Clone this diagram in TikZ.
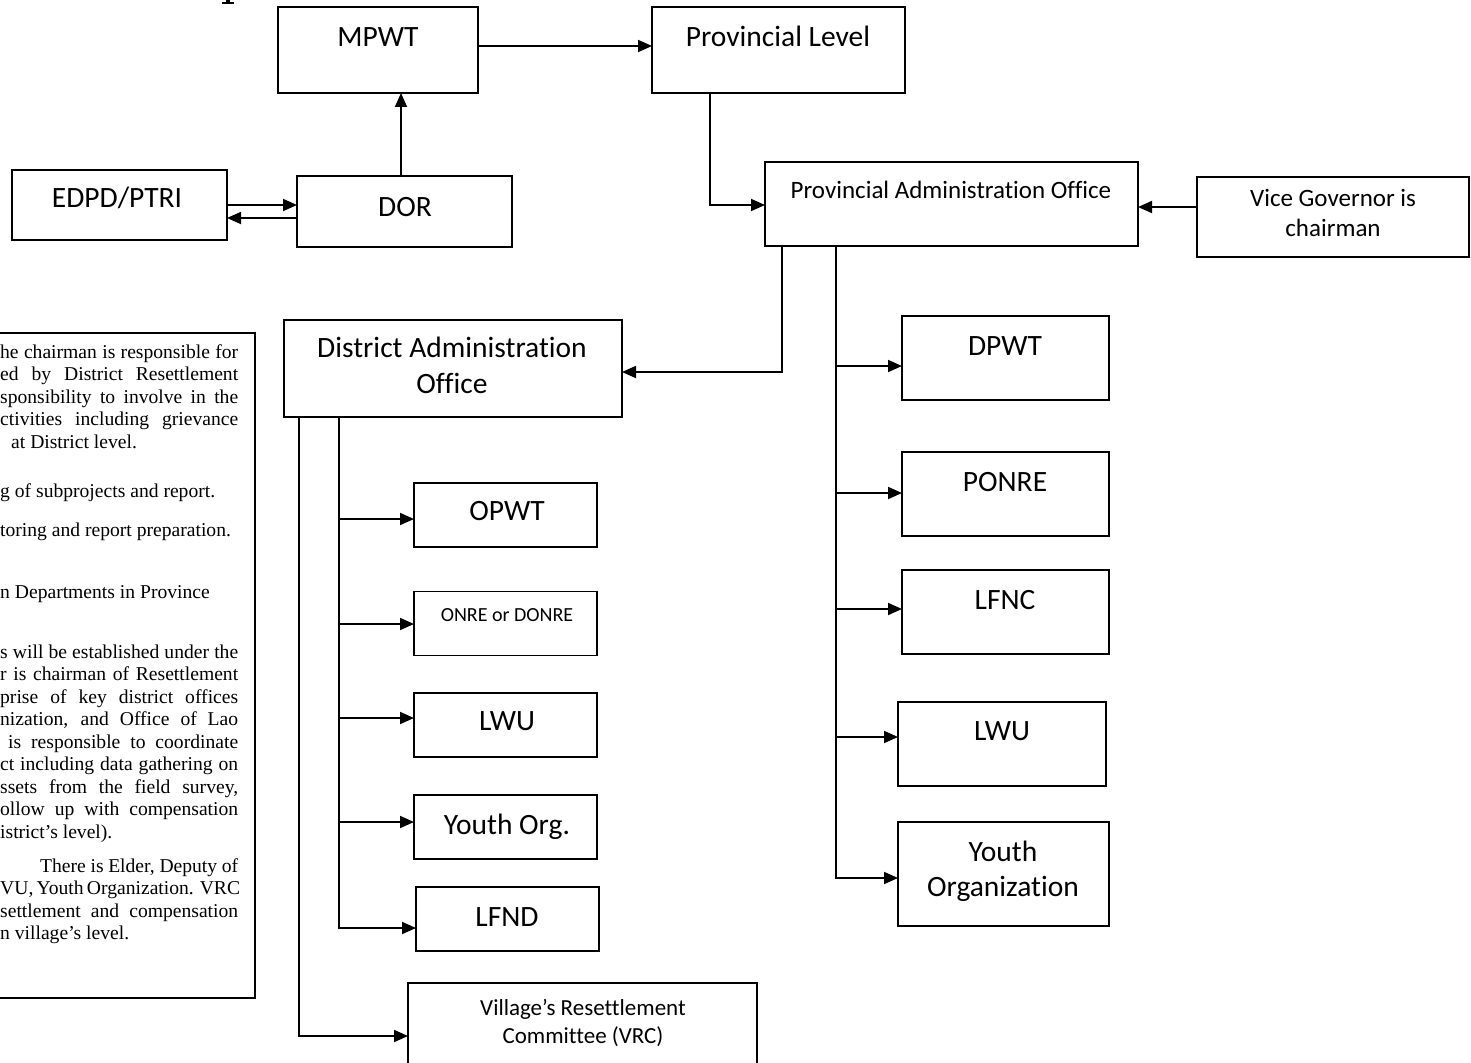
\documentclass[tikz,border=0pt]{standalone}
\usepackage{fontspec}
\setmainfont{Liberation Serif}
\newfontfamily\calfont[Ligatures={NoCommon,NoRare,NoContextual}]{Carlito}
\usetikzlibrary{arrows.meta}
\begin{document}
\begin{tikzpicture}[x=1pt,y=-1pt,
  box/.style={draw, line width=1.8pt, inner sep=0pt, outer sep=0pt},
  conn/.style={line width=1.8pt},
  arr/.style={conn, -{Triangle[length=14pt,width=12pt]}},
  big/.style={font=\calfont\fontsize{29.5}{35}\selectfont, inner sep=0pt, anchor=base},
  mid/.style={font=\calfont\fontsize{25}{30}\selectfont, inner sep=0pt, anchor=base},
  vil/.style={font=\calfont\fontsize{23}{28}\selectfont, inner sep=0pt, anchor=base},
  sml/.style={font=\calfont\fontsize{20}{24}\selectfont, inner sep=0pt, anchor=base},
  tl/.style={font=\fontsize{19.6}{23}\selectfont, inner sep=0pt, anchor=base west},
]
\useasboundingbox (0,0) rectangle (1471,1062);
\fill[white] (0,0) rectangle (1471,1062);

% foot of a letter of a title cut off above the picture
\fill[black] (226,0) rectangle (229.5,2.2);
\fill[black] (222,2.2) rectangle (233.5,3.6);

% ---------- boxes ----------
\node[box, minimum width=200pt, minimum height=86pt] (mpwt) at (378,50) {};
\node[box, minimum width=253pt, minimum height=86pt] (pl) at (778.5,50) {};
\node[box, minimum width=215pt, minimum height=70pt] (edpd) at (119.5,205) {};
\node[box, minimum width=215pt, minimum height=71pt] (dor) at (404.5,211.5) {};
\node[box, minimum width=373pt, minimum height=84pt] (pao) at (951.5,204) {};
\node[box, minimum width=272pt, minimum height=80pt] (vg) at (1333,217) {};
\node[box, minimum width=338pt, minimum height=97pt] (dao) at (453,368.5) {};
\node[box, minimum width=207pt, minimum height=84pt] (dpwt) at (1005.5,358) {};
\node[box, minimum width=207pt, minimum height=84pt] (ponre) at (1005.5,494) {};
\node[box, minimum width=207pt, minimum height=84pt] (lfnc) at (1005.5,612) {};
\node[box, minimum width=208pt, minimum height=84pt] (lwup) at (1002,744) {};
\node[box, minimum width=211pt, minimum height=104pt] (yop) at (1003.5,874) {};
\node[box, minimum width=183pt, minimum height=64pt] (opwt) at (505.5,515) {};
\node[box, minimum width=183pt, minimum height=64pt] (onre) at (505.5,623.5) {};
\node[box, minimum width=183pt, minimum height=64pt] (lwud) at (505.5,725) {};
\node[box, minimum width=183pt, minimum height=64pt] (yod) at (505.5,827) {};
\node[box, minimum width=183pt, minimum height=64pt] (lfnd) at (507.5,919) {};
\node[box, minimum width=349pt, minimum height=100pt] (vrc) at (582.5,1033) {};
\node[box, minimum width=300pt, minimum height=665pt] (note) at (105,665.5) {};

% ---------- box texts ----------
\node[big] (tmpwt) at (378,46.5) {MPWT};
\node[big] (tpl) at (778,46.5) {Provincial Level};
\node[big] (tedpd) at (117,207.5) {EDPD/PTRI};
\node[big] (tdor) at (405,216.5) {DOR};
\node[mid] (tpao) at (951,198) {Provincial Administration Office};
\node[mid] (tvg1) at (1333,206) {Vice Governor is};
\node[mid] (tvg2) at (1333,236) {chairman};
\node[big] (tdao1) at (452,357.5) {District Administration};
\node[big] (tdao2) at (452,393.5) {Office};
\node[big] (tdpwt) at (1005,355.5) {DPWT};
\node[big] (tponre) at (1005,491.5) {PONRE};
\node[big] (tlfnc) at (1005,609.5) {LFNC};
\node[big] (tlwup) at (1002,740.5) {LWU};
\node[big] (tyop1) at (1003,861.5) {Youth};
\node[big] (tyop2) at (1003,896.5) {Organization};
\node[big] (topwt) at (507,520.5) {OPWT};
\node[sml] (tonre) at (507,621.5) {ONRE or DONRE};
\node[big] (tlwud) at (507,730.5) {LWU};
\node[big] (tyod) at (507,834.5) {Youth Org.};
\node[big] (tlfnd) at (507,926.5) {LFND};
\node[vil] (tvrc1) at (583,1015.5) {Village’s Resettlement};
\node[vil] (tvrc2) at (583,1043) {Committee (VRC)};

% ---------- note text (clipped at the left edge) ----------
\node[tl] (n1) at (0,358) {\makebox[238pt][s]{he chairman is responsible for}};
\node[tl] (n2) at (0,380.5) {\makebox[238pt][s]{ed by District Resettlement}};
\node[tl] (n3) at (0,403) {\makebox[238pt][s]{sponsibility to involve in the}};
\node[tl] (n4) at (0,425.5) {\makebox[238pt][s]{ctivities including grievance}};
\node[tl] (n5) at (11,448) {at District level.};
\node[tl] (n6) at (0,497) {g of subprojects and report.};
\node[tl] (n7) at (0,536) {toring and report preparation.};
\node[tl] (n8) at (0,598) {n Departments in Province};
\node[tl] (n9) at (0,658) {\makebox[238pt][s]{s will be established under the}};
\node[tl] (n10) at (0,680.5) {\makebox[238pt][s]{r is chairman of Resettlement}};
\node[tl] (n11) at (0,703) {\makebox[238pt][s]{prise of key district offices}};
\node[tl] (n12) at (0,725.5) {\makebox[238pt][s]{nization, and Office of Lao}};
\node[tl] (n13) at (8,748) {\makebox[230pt][s]{is responsible to coordinate}};
\node[tl] (n14) at (0,770.5) {\makebox[238pt][s]{ct including data gathering on}};
\node[tl] (n15) at (0,793) {\makebox[238pt][s]{ssets from the field survey,}};
\node[tl] (n16) at (0,815.5) {\makebox[238pt][s]{ollow up with compensation}};
\node[tl] (n17) at (0,838) {istrict’s level).};
\node[tl] (n18) at (40,872) {\makebox[198pt][s]{There is Elder, Deputy of}};
\node[tl] (n19) at (0,894.5) {\makebox[238pt][s]{VU, Youth Organization. VRC}};
\node[tl] (n20) at (0,917) {\makebox[238pt][s]{settlement and compensation}};
\node[tl] (n21) at (0,939.5) {n village’s level.};

% ---------- connectors ----------
\draw[arr] ([yshift=4pt]mpwt.east) -- ([yshift=4pt]pl.west);
\draw[arr] ([xshift=-3.5pt]dor.north) -- ([xshift=-3.5pt]dor.north |- mpwt.south);
\draw[arr] (edpd.east) -- (edpd.east -| dor.west);
\draw[arr] (dor.west |- 0,218) -- (edpd.east |- 0,218);
\draw[arr] (pl.south -| 710,0) |- ([yshift=-1pt]pao.west);
\draw[arr] (vg.west |- 0,207) -- (pao.east |- 0,207);
\draw[arr] (pao.south -| 782,0) |- (dao.east |- 0,372);

\coordinate (pb1) at (836,366);
\coordinate (pb2) at (836,493);
\coordinate (pb3) at (836,609);
\coordinate (pb4) at (836,737);
\draw[arr] (pao.south -| 836,0) |- (yop.west |- 0,878);
\draw[arr] (pb1) -- (dpwt.west |- pb1);
\draw[arr] (pb2) -- (ponre.west |- pb2);
\draw[arr] (pb3) -- (lfnc.west |- pb3);
\draw[arr] (pb4) -- (lwup.west |- pb4);

\coordinate (db1) at (339,519);
\coordinate (db2) at (339,624);
\coordinate (db3) at (339,718);
\coordinate (db4) at (339,822);
\draw[arr] (dao.south -| 339,0) |- (lfnd.west |- 0,928);
\draw[arr] (db1) -- (opwt.west |- db1);
\draw[arr] (db2) -- (onre.west |- db2);
\draw[arr] (db3) -- (lwud.west |- db3);
\draw[arr] (db4) -- (yod.west |- db4);
\draw[arr] (dao.south -| 299,0) |- (vrc.west |- 0,1036);
\end{tikzpicture}
\end{document}
